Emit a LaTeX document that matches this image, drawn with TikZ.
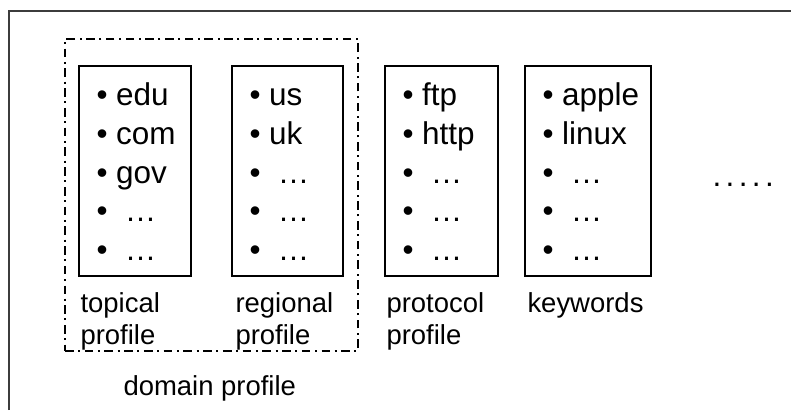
\documentclass[tikz,border=0pt]{standalone}
\usepackage{fontspec}
\setmainfont{Liberation Sans}

\tikzset{every picture/.style={line width=0.75pt}}
\tikzset{
  profbox/.style={draw, line width=1pt, inner sep=0pt},
  domainbox/.style={draw, line width=1pt, inner sep=0pt, dash pattern=on 6.5pt off 3.4pt on 1.5pt off 3.4pt},
  itemlist/.style={anchor=north west, inner sep=0pt, align=left, font=\fontsize{23.6}{29.06}\selectfont},
  caption/.style={anchor=north west, inner sep=0pt, align=left, font=\fontsize{20.6}{24}\selectfont}
}

\begin{document}
\begin{tikzpicture}[x=0.75pt,y=0.75pt,yscale=-1,xscale=1]
\useasboundingbox (0,0) rectangle (791,410);

%Straight Lines (frame, cut at the right and bottom)
\draw [color={rgb, 255:red, 60; green, 60; blue, 60 }, line width=1pt]  (9,410) -- (9,11) -- (791,11) ;

%Shape: Rectangle (domain profile)
\node [domainbox, minimum width=219.75pt, minimum height=234pt] (domain) at (211.5,195) {};

%Shape: Rectangle
\node [profbox, minimum width=84pt, minimum height=157.5pt] (topical) at (135,171) {};
%Shape: Rectangle
\node [profbox, minimum width=83.25pt, minimum height=157.5pt] (regional) at (287.5,171) {};
%Shape: Rectangle
\node [profbox, minimum width=84.75pt, minimum height=157.5pt] (protocol) at (441.5,171) {};
%Shape: Rectangle
\node [profbox, minimum width=94.5pt, minimum height=157.5pt] (keywords) at (588,171) {};

% Text Node
\node [itemlist] (topicalitems) at (96,77.9) {\strut• edu\\• com\\• gov\\• \ …\\• \ …};
% Text Node
\node [itemlist] (regionalitems) at (249,77.9) {\strut• us\\• uk\\• \ …\\• \ …\\• \ …};
% Text Node
\node [itemlist] (protocolitems) at (402,77.9) {\strut• ftp\\• http\\• \ …\\• \ …\\• \ …};
% Text Node
\node [itemlist] (keyworditems) at (542,77.9) {\strut• apple\\• linux\\• \ …\\• \ …\\• \ …};

% Text Node
\node [caption] (topicallabel) at (80,289.6) {\strut topical\\profile};
% Text Node
\node [caption] (regionallabel) at (235,289.6) {\strut regional\\profile};
% Text Node
\node [caption] (protocollabel) at (386,289.6) {\strut protocol\\profile};
% Text Node
\node [caption] (keywordslabel) at (527,289.6) {\strut keywords};
% Text Node
\node [caption] (domainlabel) at (123,372.6) {\strut domain profile};

% Text Node
\node [itemlist, anchor=base west] (more) at (712,186) {.\kern3.3pt.\kern3.3pt.\kern3.3pt.\kern3.3pt.};

\end{tikzpicture}
\end{document}
